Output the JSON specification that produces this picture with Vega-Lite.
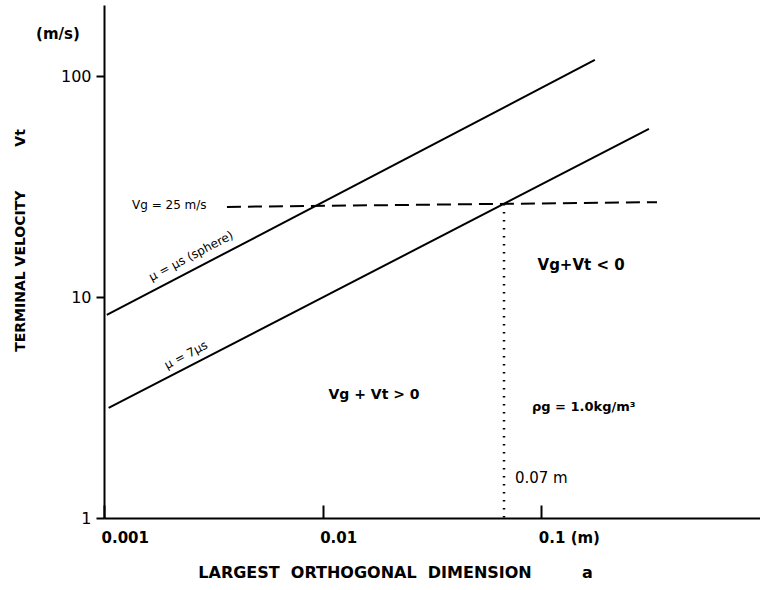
{
  "$schema": "https://vega.github.io/schema/vega-lite/v6.json",
  "width": 656,
  "height": 513,
  "autosize": {"type": "none"},
  "padding": {"left": 104, "top": 5, "right": 0, "bottom": 72},
  "background": "white",
  "config": {"view": {"stroke": null}, "font": "DejaVu Sans"},
  "datasets": {
    "curves": [
      {"series": "mu = mu_s (sphere)", "a": 0.00103, "vt": 8.3},
      {"series": "mu = mu_s (sphere)", "a": 0.1757, "vt": 118.4},
      {"series": "mu = 7 mu_s", "a": 0.00105, "vt": 3.15},
      {"series": "mu = 7 mu_s", "a": 0.3105, "vt": 57.7}
    ],
    "vg": [
      {"a": 0.00365, "vt": 25.6},
      {"a": 0.338, "vt": 26.9}
    ],
    "cut": [
      {"a": 0.0675, "vt": 26.4},
      {"a": 0.0675, "vt": 1}
    ],
    "t1": [{"label": "Vg + Vt > 0", "a": 0.01717, "vt": 3.6}],
    "t2": [
      {"label": "Vg+Vt < 0", "a": 0.152, "vt": 13.97},
      {"label": "(m/s)", "a": 0.000616, "vt": 155}
    ],
    "t3": [{"label": "Vg = 25 m/s", "a": 0.001343, "vt": 26.1}],
    "t4": [{"label": "ρg = 1.0kg/m³", "a": 0.0906, "vt": 3.18}],
    "t5": [{"label": "0.07 m", "a": 0.0757, "vt": 1.517}],
    "t6": [
      {"label": "μ = μs (sphere)", "a": 0.0025, "vt": 15.35},
      {"label": "μ = 7μs", "a": 0.00237, "vt": 5.47}
    ]
  },
  "encoding": {
    "x": {
      "field": "a",
      "type": "quantitative",
      "scale": {"type": "log", "domain": [0.001, 1], "nice": false},
      "axis": {
        "values": [0.001, 0.01, 0.1],
        "labelExpr": "datum.value < 0.005 ? '0.001' : datum.value < 0.05 ? '0.01' : '0.1 (m)'",
        "grid": false,
        "domainColor": "black",
        "domainWidth": 2,
        "tickColor": "black",
        "tickWidth": 2,
        "tickSize": -13,
        "labelPadding": 25,
        "labelAlign": "left",
        "labelOffset": -3,
        "labelFlush": false,
        "labelOverlap": false,
        "labelFont": "DejaVu Sans",
        "labelFontSize": 15,
        "labelFontWeight": "bold",
        "labelColor": "black",
        "title": "LARGEST\u00a0\u00a0ORTHOGONAL\u00a0\u00a0DIMENSION\u00a0\u00a0\u00a0\u00a0\u00a0\u00a0\u00a0\u00a0\u00a0a",
        "titleFont": "DejaVu Sans",
        "titleFontSize": 16,
        "titleFontWeight": "bold",
        "titleColor": "black",
        "titleX": 291,
        "titleY": 54,
        "titleAlign": "center",
        "titleBaseline": "middle"
      }
    },
    "y": {
      "field": "vt",
      "type": "quantitative",
      "scale": {"type": "log", "domain": [1, 210], "nice": false},
      "axis": {
        "values": [1, 10, 100],
        "labelExpr": "datum.value < 5 ? '1' : datum.value < 50 ? '10' : '100'",
        "grid": false,
        "domainColor": "black",
        "domainWidth": 2,
        "tickColor": "black",
        "tickWidth": 2,
        "tickSize": 8,
        "labelPadding": 5,
        "labelFont": "DejaVu Sans",
        "labelFontSize": 16,
        "labelColor": "black",
        "labelFlush": false,
        "labelOverlap": false,
        "title": "TERMINAL\u00a0VELOCITY\u00a0\u00a0\u00a0\u00a0\u00a0\u00a0\u00a0\u00a0\u00a0Vt",
        "titleFont": "DejaVu Sans",
        "titleFontSize": 14,
        "titleFontWeight": "bold",
        "titleColor": "black",
        "titleX": -84,
        "titleY": 235,
        "titleAlign": "center",
        "titleBaseline": "middle",
        "titleAngle": -90
      }
    }
  },
  "layer": [
    {
      "data": {"name": "curves"},
      "mark": {"type": "line", "color": "black", "strokeWidth": 2},
      "encoding": {"detail": {"field": "series", "type": "nominal"}}
    },
    {
      "data": {"name": "vg"},
      "mark": {"type": "line", "color": "black", "strokeWidth": 2, "strokeDash": [14, 7]},
      "encoding": {}
    },
    {
      "data": {"name": "cut"},
      "mark": {"type": "line", "color": "black", "strokeWidth": 2.5, "strokeDash": [1.5, 6.5]},
      "encoding": {}
    },
    {
      "data": {"name": "t1"},
      "mark": {"type": "text", "font": "DejaVu Sans", "fontSize": 14, "fontWeight": "bold", "align": "center", "baseline": "middle", "color": "black"},
      "encoding": {"text": {"field": "label"}}
    },
    {
      "data": {"name": "t2"},
      "mark": {"type": "text", "font": "DejaVu Sans", "fontSize": 15, "fontWeight": "bold", "align": "center", "baseline": "middle", "color": "black"},
      "encoding": {"text": {"field": "label"}}
    },
    {
      "data": {"name": "t3"},
      "mark": {"type": "text", "font": "DejaVu Sans", "fontSize": 12, "align": "left", "baseline": "middle", "color": "black"},
      "encoding": {"text": {"field": "label"}}
    },
    {
      "data": {"name": "t4"},
      "mark": {"type": "text", "font": "DejaVu Sans", "fontSize": 13, "fontWeight": "bold", "align": "left", "baseline": "middle", "color": "black"},
      "encoding": {"text": {"field": "label"}}
    },
    {
      "data": {"name": "t5"},
      "mark": {"type": "text", "font": "DejaVu Sans", "fontSize": 15, "align": "left", "baseline": "middle", "color": "black"},
      "encoding": {"text": {"field": "label"}}
    },
    {
      "data": {"name": "t6"},
      "mark": {"type": "text", "font": "DejaVu Sans", "fontSize": 12, "align": "center", "baseline": "middle", "angle": 332.4, "color": "black"},
      "encoding": {"text": {"field": "label"}}
    }
  ]
}
